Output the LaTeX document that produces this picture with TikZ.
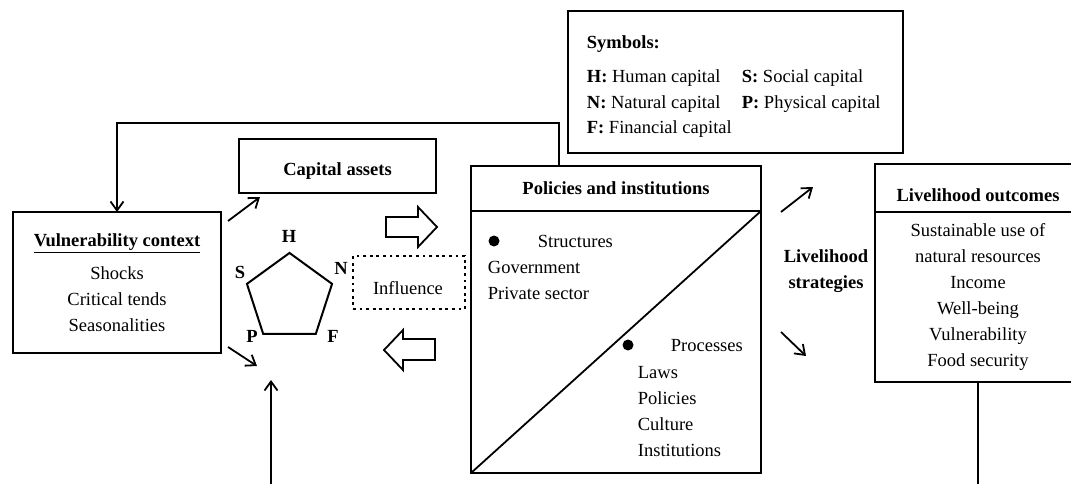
\documentclass[tikz,border=0pt]{standalone}
\usepackage{fontspec}
\setmainfont{Liberation Serif}
\usetikzlibrary{arrows.meta, shapes.geometric, positioning}
\newcommand{\figfont}{\fontsize{18.5}{26}\selectfont}
\tikzset{
  % one pixel of the layout is one point
  every picture/.append style = {line width=1.8pt, >={Straight Barb[length=9pt,width=13pt]}},
  box/.style      = {draw, rectangle, inner sep=0pt, outer sep=0pt},
  lbl/.style      = {font=\figfont, inner sep=0pt},
  blbl/.style     = {font=\figfont\bfseries, inner sep=0pt},
  arr/.style      = {->, line width=1.8pt},
  fatarrow/.style = {draw, line width=1.8pt, line join=miter},
  dotbox/.style   = {draw, line width=2.8pt, dash pattern=on 2.8pt off 3.8pt, inner sep=0pt, outer sep=0pt},
  bullet/.style   = {circle, fill=black, inner sep=0pt, minimum size=11pt},
}
\begin{document}
\begin{tikzpicture}[x=1pt,y=-1pt]
  \useasboundingbox (0,0) rectangle (1071,484);
  \clip (0,0) rectangle (1071,484);
  % vulnerability context
  \node[box, lbl, align=center, minimum width=208pt, minimum height=141pt] (vul) at (117,282.5)
    {\underline{\textbf{Vulnerability context}}\\[7pt] Shocks\\ Critical tends\\ Seasonalities};
  % capital assets and the pentagon
  \node[box, minimum width=197pt, minimum height=54pt] (cap) at (337.5,166) {};
  \node[blbl] (captxt) at (337.5,171) {Capital assets};
  \node[regular polygon, regular polygon sides=5, draw, line width=2pt,
        minimum size=89.5pt, inner sep=0pt, outer sep=0pt] (pent) at (289.5,297.7) {};
  \node[blbl] (lblH) at (289,236) {H};
  \node[blbl] (lblS) at (240,272) {S};
  \node[blbl] (lblN) at (341,268) {N};
  \node[blbl] (lblP) at (252,336) {P};
  \node[blbl] (lblF) at (333,336) {F};
  % influence
  \node[dotbox, minimum width=112pt, minimum height=53pt] (infl) at (409,282.5) {};
  \node[lbl] (infltxt) at (408,288) {Influence};
  % hollow arrows
  \draw[fatarrow] (386,217) -- (418,217) -- (418,207) -- (437,227) -- (418,247) -- (418,237) -- (386,237) -- cycle;
  \draw[fatarrow] (435,339) -- (403,339) -- (403,330) -- (384,350) -- (403,370) -- (403,360) -- (435,360) -- cycle;
  % symbols
  \node[box, minimum width=335pt, minimum height=142pt] (sym) at (735.5,82) {};
  \node[blbl, anchor=base west] (symtitle) at (586,49) {Symbols:};
  \node[lbl, anchor=base west] (symH) at (586,83) {\textbf{H:} Human capital};
  \node[lbl, anchor=base west] (symS) at (741,83) {\textbf{S:} Social capital};
  \node[lbl, anchor=base west] (symN) at (586,109) {\textbf{N:} Natural capital};
  \node[lbl, anchor=base west] (symP) at (741,109) {\textbf{P:} Physical capital};
  \node[lbl, anchor=base west] (symF) at (586,134) {\textbf{F:} Financial capital};
  % policies and institutions
  \node[box, blbl, minimum width=290pt, minimum height=45pt] (polhead) at (616,188.5) {Policies and institutions};
  \node[box, minimum width=290pt, minimum height=262pt, below=0pt of polhead] (polbody) {};
  \draw (polbody.south west) -- (polbody.north east);
  \node[bullet] (bstruct) at (494,241) {};
  \node[lbl, anchor=base west] (struct) at (537,247) {Structures};
  \node[lbl, anchor=base west] (gov) at (487,273) {Government};
  \node[lbl, anchor=base west] (priv) at (487,299) {Private sector};
  \node[bullet] (bproc) at (628,345) {};
  \node[lbl, anchor=base west] (proc) at (670,351) {Processes};
  \foreach \txt [count=\i] in {Laws, Policies, Culture, Institutions}
    \node[lbl, anchor=base west] (proc\i) at (637,352+26*\i) {\txt};
  % strategies and outcomes
  \node[blbl, align=center] (strat) at (826,271) {Livelihood\\ strategies};
  \node[box, minimum width=206pt, minimum height=48pt] (outhead) at (978,188) {};
  \node[blbl] (outtitle) at (978,195) {Livelihood outcomes};
  \node[box, lbl, align=center, minimum width=206pt, minimum height=170pt, below=0pt of outhead] (outbody)
    {Sustainable use of\\ natural resources\\ Income\\ Well-being\\ Vulnerability\\ Food security};
  % connectors
  \coordinate (fbcorner) at (117,123);
  \coordinate (va1) at (228,221); \coordinate (va2) at (260,197);
  \coordinate (vb1) at (228,347); \coordinate (vb2) at (257,366);
  \coordinate (ls1) at (781,212); \coordinate (ls2) at (813,187);
  \coordinate (ls3) at (781,332); \coordinate (ls4) at (806,356);
  \coordinate (inbot) at (271,484); \coordinate (intop) at (271,380);
  \draw[arr] ([xshift=88pt]polhead.north west) |- (fbcorner) -- (vul.north);
  \draw[arr] (va1) -- (va2);
  \draw[arr] (vb1) -- (vb2);
  \draw[arr] (ls1) -- (ls2);
  \draw[arr] (ls3) -- (ls4);
  \draw[arr] (inbot) -- (intop);
  \draw (outbody.south) -- (outbody.south |- inbot);
\end{tikzpicture}
\end{document}
